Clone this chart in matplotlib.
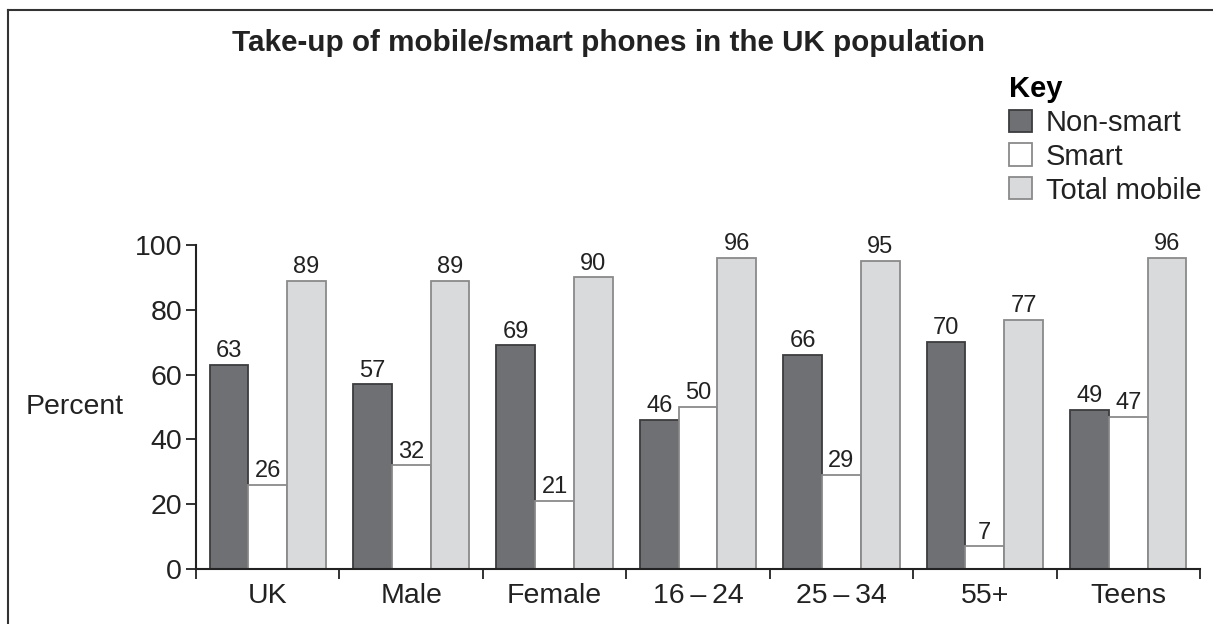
import matplotlib
matplotlib.use("Agg")
import matplotlib.pyplot as plt
from matplotlib.lines import Line2D
import numpy as np

plt.rcParams['font.family'] = ['Liberation Sans', 'DejaVu Sans']

categories = ["UK", "Male", "Female", "16\u2009\u2013\u200924", "25\u2009\u2013\u200934", "55+", "Teens"]
non_smart = [63, 57, 69, 46, 66, 70, 49]
smart = [26, 32, 21, 50, 29, 7, 47]
total_mobile = [89, 89, 90, 96, 95, 77, 96]
series_names = ["Non-smart", "Smart", "Total mobile"]
title = "Take-up of mobile/smart phones in the UK population"

W, H = 1213, 624
fig = plt.figure(figsize=(W / 100, H / 100), dpi=100)
fig.patch.set_facecolor("white")

ax = fig.add_axes([196 / W, 1 - 569 / H, (1200 - 196) / W, (569 - 245) / H])

x = np.arange(len(categories)) + 0.5
bw = 0.27
fills = ["#6f7074", "#ffffff", "#d9dadc"]
edges = ["#3c3c3e", "#8a8a8a", "#8a8a8a"]
conts = []
for i, (vals, fc, ec, name) in enumerate(zip([non_smart, smart, total_mobile], fills, edges, series_names)):
    c = ax.bar(x + (i - 1) * bw, vals, width=bw, color=fc, edgecolor=ec, linewidth=1.3, label=name, zorder=2)
    conts.append(c)
    ax.bar_label(c, labels=[str(v) for v in vals], padding=2, fontsize=17, color="#222222")

ax.set_xlim(0, len(categories))
ax.set_ylim(0, 100)
ax.set_yticks([0, 20, 40, 60, 80, 100])
ax.tick_params(axis='y', labelsize=20.5, length=7, width=1.3, pad=3, colors="#222222")
ax.set_xticks(x)
ax.set_xticklabels(categories)
ax.tick_params(axis='x', which='major', length=0, labelsize=20.5, pad=10, colors="#222222")
ax.set_xticks(np.arange(len(categories) + 1), minor=True)
ax.tick_params(axis='x', which='minor', length=7, width=1.3, color="#222222")
for s in ["top", "right"]:
    ax.spines[s].set_visible(False)
for s in ["left", "bottom"]:
    ax.spines[s].set_linewidth(1.5)
    ax.spines[s].set_color("#222222")

ax.text(-0.121, 50, "Percent", transform=ax.get_yaxis_transform(), fontsize=20.5,
        ha="center", va="center", color="#222222")

fig.text(609 / W, 1 - 43 / H, title, fontsize=21.3, fontweight="bold", ha="center", va="center", color="#222222")

leg = fig.legend(handles=conts, labels=series_names, loc="upper left",
                 bbox_to_anchor=(1009 / W, 1 - 75 / H), frameon=False, fontsize=21,
                 title="Key", title_fontproperties={"weight": "bold", "size": 21},
                 alignment="left", borderpad=0, borderaxespad=0,
                 handlelength=0.79, handleheight=0.79, handletextpad=0.48, labelspacing=0.2)
for t in leg.get_texts():
    t.set_color("#222222")

# frame lines
fig.add_artist(Line2D([8 / W, 8 / W], [0, 1 - 10 / H], transform=fig.transFigure, color="#333333", lw=1.5))
fig.add_artist(Line2D([8 / W, 1], [1 - 10 / H, 1 - 10 / H], transform=fig.transFigure, color="#333333", lw=1.5))

fig.savefig("out.png", dpi=100)
